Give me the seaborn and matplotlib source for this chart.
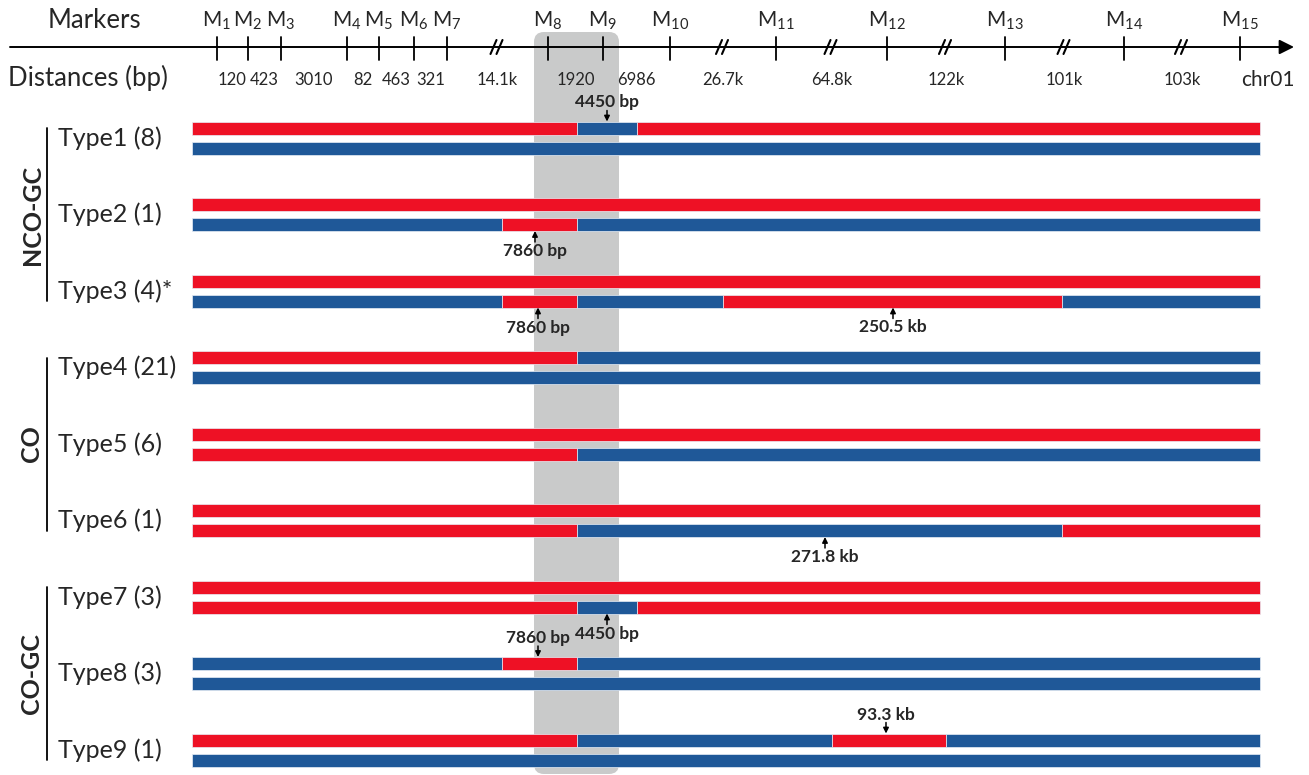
import numpy as np
import matplotlib
matplotlib.use("Agg")
import matplotlib.pyplot as plt
from matplotlib.patches import FancyBboxPatch
import seaborn as sns

# marker axis
marker_names = [f"M{i}" for i in range(1, 16)]
marker_x = [217, 248, 281, 347, 379, 414, 447, 548, 603, 670, 776, 887, 1005, 1124, 1240]
distances = ["120", "423", "3010", "82", "463", "321", "14.1k", "1920", "6986",
             "26.7k", "64.8k", "122k", "101k", "103k"]
has_break = [False, False, False, False, False, False, True, False, False,
             True, True, True, True, True]

# haplotype types
type_labels = ["Type1 (8)", "Type2 (1)", "Type3 (4)*", "Type4 (21)", "Type5 (6)",
               "Type6 (1)", "Type7 (3)", "Type8 (3)", "Type9 (1)"]
chr_start, chr_end = 192, 1260
top_breaks = [[577, 637], [], [], [577], [], [], [], [502, 577], [577, 832, 946]]
top_colors = ["RBR", "R", "R", "RB", "R", "R", "R", "BRB", "RBRB"]
bot_breaks = [[], [502, 577], [502, 577, 723, 1062], [], [577], [577, 1062],
              [577, 637], [], []]
bot_colors = ["B", "BRB", "BRBRB", "B", "RB", "RBR", "RBR", "B", "B"]

# annotations (row, strand, x, text)
ann_rows = [0, 1, 2, 2, 5, 6, 7, 8]
ann_strand = ["top", "bot", "bot", "bot", "bot", "bot", "top", "top"]
ann_x = [607, 535, 538, 893, 825, 607, 538, 886]
ann_text = ["4450 bp", "7860 bp", "7860 bp", "250.5 kb", "271.8 kb",
            "4450 bp", "7860 bp", "93.3 kb"]

groups = ["NCO-GC", "CO", "CO-GC"]
group_rows = [(0, 2), (3, 5), (6, 8)]

sns.set_theme(style="white")
plt.rcParams["font.family"] = ["Lato", "DejaVu Sans"]
plt.rcParams["mathtext.fontset"] = "custom"
plt.rcParams["mathtext.rm"] = "Lato"

RED = "#ee1125"
BLUE = "#1f5898"
cmap = {"R": RED, "B": BLUE}

fig = plt.figure(figsize=(13.09, 7.75), dpi=100)
ax = fig.add_axes([0, 0, 1, 1])
ax.set_xlim(0, 1309)
ax.set_ylim(775, 0)
ax.axis("off")

# gray highlight band
band = FancyBboxPatch((534, 32), 85, 742, boxstyle="round,pad=0,rounding_size=10",
                      fc="#c9caca", ec="none", zorder=0)
ax.add_patch(band)

# chromosome axis
axis_y = 47
ax.annotate("", xy=(1294, axis_y), xytext=(10, axis_y),
            arrowprops=dict(arrowstyle="-|>", lw=1.4, color="black", mutation_scale=22,
                            shrinkA=0, shrinkB=0))
for name, x in zip(marker_names, marker_x):
    ax.plot([x, x], [37, 60], color="black", lw=1.3)
    ax.text(x, 21, r"$\mathregular{M_{%s}}$" % name[1:], ha="center", va="center", fontsize=15)
for i, d in enumerate(distances):
    mid = (marker_x[i] + marker_x[i + 1]) / 2
    ax.text(mid, 80, d, ha="center", va="center", fontsize=12)
    if has_break[i]:
        for dx in (-4, 2):
            ax.plot([mid + dx - 3, mid + dx + 3], [54, 40], color="black", lw=1.5)
ax.text(48, 20, "Markers", ha="left", va="center", fontsize=18.5)
ax.text(8, 78, "Distances (bp)", ha="left", va="center", fontsize=18.5)
ax.text(1268, 80, "chr01", ha="center", va="center", fontsize=15)

# haplotype bars
row_y = [138 + 76.5 * i for i in range(len(type_labels))]
bar_h = 13


def draw_strand(y, breaks, colors):
    edges = [chr_start] + list(breaks) + [chr_end]
    for (a, b), c in zip(zip(edges[:-1], edges[1:]), colors):
        ax.barh(y, b - a, left=a, height=bar_h, color=cmap[c],
                edgecolor="#e8eef6", linewidth=0.5, zorder=2)


for i, lab in enumerate(type_labels):
    y = row_y[i]
    draw_strand(y - 10, top_breaks[i], top_colors[i])
    draw_strand(y + 10, bot_breaks[i], bot_colors[i])
    ax.text(58, y, lab, ha="left", va="center", fontsize=18)

for r, s, x, t in zip(ann_rows, ann_strand, ann_x, ann_text):
    y = row_y[r]
    if s == "top":
        tip = y - 10 - bar_h / 2
        tail, ty = tip - 11, tip - 19
    else:
        tip = y + 10 + bar_h / 2
        tail, ty = tip + 11, tip + 20
    ax.annotate("", xy=(x, tip), xytext=(x, tail),
                arrowprops=dict(arrowstyle="-|>", lw=1.1, color="black", mutation_scale=8,
                                shrinkA=0, shrinkB=0),
                zorder=4)
    ax.text(x, ty, t, ha="center", va="center", fontsize=12.5, fontweight="bold", zorder=4)

# group brackets
for g, (r0, r1) in zip(groups, group_rows):
    y0, y1 = row_y[r0] - 10, row_y[r1] + 10
    ax.plot([47, 47], [y0, y1], color="black", lw=1.3)
    ax.text(32, (y0 + y1) / 2, g, rotation=90, ha="center", va="center",
            fontsize=18, fontweight="bold")

fig.savefig("out.png", dpi=100)
